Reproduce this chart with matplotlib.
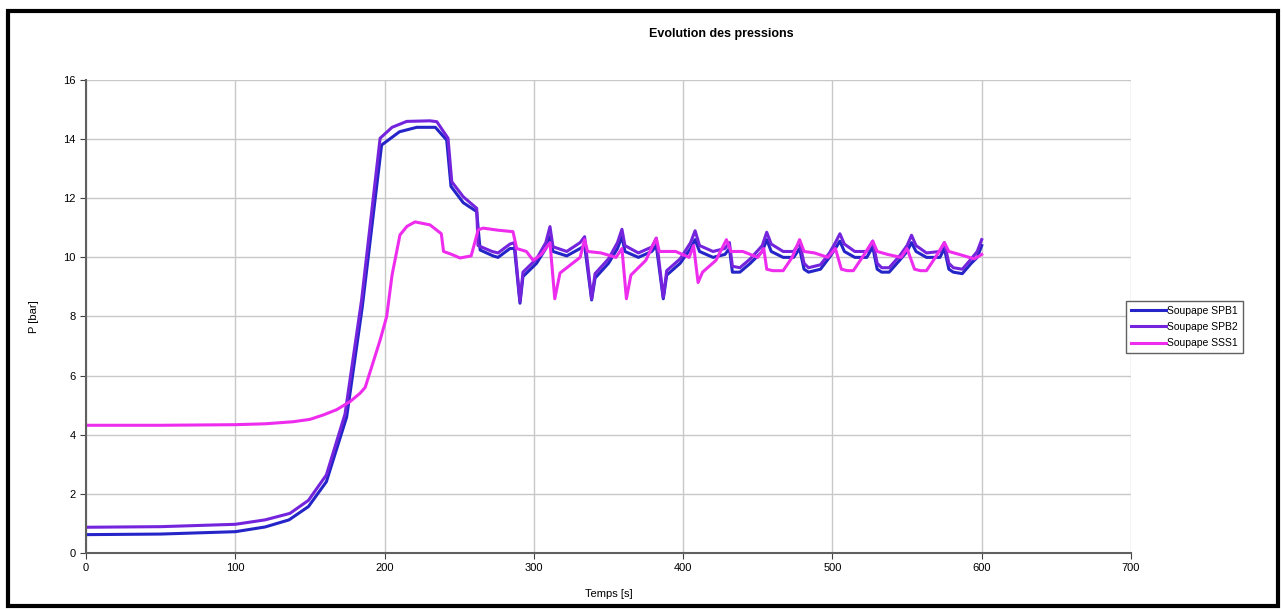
import numpy as np
import matplotlib.pyplot as plt
from matplotlib.patches import Rectangle

plt.rcParams['font.family'] = ['Liberation Sans', 'DejaVu Sans']

# Soupape SPB1
t_spb1 = [0, 50, 100, 120, 136, 149, 161, 174.6, 185, 198, 210, 221.5, 234, 241.6, 244.5,
          252.7, 261.7, 264, 272.7, 276, 284, 287, 290.7, 292.7, 301.8, 308, 310.8, 312.8,
          322, 331, 334, 338.7, 341, 350, 356, 359, 361, 370, 379, 382, 386.7, 389, 398,
          405, 408, 411, 420, 428, 431, 433, 438, 445, 453, 456, 459, 467, 474, 478, 481,
          484, 492, 498, 502, 505, 508, 515, 523, 527, 530, 533, 538, 545, 550, 553, 556,
          563, 572, 575, 578, 581, 587, 593, 597, 600]
p_spb1 = [0.62, 0.64, 0.72, 0.88, 1.12, 1.57, 2.41, 4.6, 8.3, 13.8, 14.25, 14.4, 14.4, 13.97, 12.4,
          11.85, 11.55, 10.25, 10.05, 10.0, 10.3, 10.3, 8.45, 9.35, 9.8, 10.3, 10.7, 10.2,
          10.05, 10.3, 10.4, 8.56, 9.3, 9.8, 10.3, 10.7, 10.2, 10.0, 10.2, 10.4, 8.6, 9.4, 9.8,
          10.3, 10.6, 10.2, 10.0, 10.1, 10.3, 9.5, 9.5, 9.8, 10.2, 10.6, 10.2, 10.0, 10.0, 10.3, 9.6,
          9.5, 9.6, 10.0, 10.3, 10.55, 10.2, 10.0, 10.0, 10.35, 9.6, 9.5, 9.5, 9.9, 10.2, 10.5, 10.2,
          10.0, 10.0, 10.3, 9.6, 9.5, 9.45, 9.8, 10.0, 10.4]

# Soupape SPB2
t_spb2 = [0, 50, 100, 120, 136.6, 149, 161, 173.5, 184.6, 197, 205, 214.8, 230.4, 235, 242.5,
          245, 252.7, 261.7, 262.6, 272, 276, 284, 287, 290.7, 292.7, 301.8, 308, 310.8, 312.8,
          322, 331, 334, 338.7, 341, 350, 356, 359, 361, 370, 379, 382, 386.7, 389, 398,
          405, 408, 411, 420, 428, 431, 433, 438, 445, 453, 456, 459, 467, 474, 478, 481,
          484, 492, 498, 502, 505, 508, 515, 523, 527, 530, 533, 538, 545, 550, 553, 556,
          563, 572, 575, 578, 581, 587, 593, 597, 600]
p_spb2 = [0.87, 0.89, 0.97, 1.12, 1.34, 1.78, 2.64, 4.7, 8.56, 14.03, 14.4, 14.6, 14.62, 14.59, 14.03,
          12.56, 12.05, 11.66, 10.4, 10.2, 10.15, 10.45, 10.5, 8.5, 9.5, 9.95, 10.5, 11.04, 10.36,
          10.2, 10.5, 10.7, 8.6, 9.45, 9.95, 10.5, 10.95, 10.4, 10.15, 10.35, 10.65, 8.65, 9.55, 9.95,
          10.5, 10.9, 10.4, 10.2, 10.3, 10.5, 9.7, 9.65, 9.95, 10.4, 10.85, 10.45, 10.2, 10.2, 10.5, 9.8,
          9.65, 9.75, 10.15, 10.5, 10.8, 10.45, 10.2, 10.2, 10.55, 9.8, 9.65, 9.65, 10.05, 10.4, 10.75, 10.4,
          10.15, 10.2, 10.5, 9.8, 9.65, 9.6, 9.95, 10.2, 10.6]

# Soupape SSS1
t_sss1 = [0, 50, 100, 120, 138.8, 150, 159, 168, 176.8, 183.5, 187, 192, 197, 201.4, 205,
          210.3, 215, 220.4, 230.4, 238, 239.5, 245, 250.5, 258, 262.7, 266, 276, 286, 288.5,
          295, 299.5, 305, 310.8, 314, 317.5, 331, 334, 336, 345, 355, 359, 362, 365, 375, 382,
          384, 395, 404, 407, 410, 413, 422, 429, 432, 440, 450, 454, 456, 460, 467, 473, 478,
          481, 488, 497, 502, 506, 510, 514, 520, 527, 530, 537, 546, 550, 555, 559, 563, 569,
          575, 578, 585, 595, 600]
p_sss1 = [4.32, 4.32, 4.34, 4.37, 4.44, 4.52, 4.67, 4.85, 5.12, 5.4, 5.6, 6.4, 7.2, 8.0, 9.4,
          10.76, 11.05, 11.2, 11.1, 10.8, 10.2, 10.1, 9.98, 10.05, 10.93, 10.99, 10.92, 10.87, 10.3,
          10.2, 9.9, 10.1, 10.5, 8.6, 9.47, 10.0, 10.6, 10.2, 10.15, 10.0, 10.3, 8.6, 9.4, 9.9, 10.65,
          10.2, 10.2, 10.0, 10.4, 9.15, 9.5, 9.9, 10.6, 10.2, 10.2, 10.0, 10.3, 9.6, 9.55, 9.55, 10.0, 10.6,
          10.2, 10.15, 10.0, 10.3, 9.6, 9.55, 9.55, 10.0, 10.55, 10.2, 10.1, 10.0, 10.3, 9.6, 9.55, 9.55, 10.0,
          10.5, 10.2, 10.1, 9.95, 10.1]

fig = plt.figure(figsize=(12.82, 6.09), dpi=100)
ax = fig.add_axes([0.0671, 0.092, 0.8151, 0.7766])

ax.plot(t_spb1, p_spb1, color="#2424c8", linewidth=2.2, label="Soupape SPB1")
ax.plot(t_spb2, p_spb2, color="#7424dc", linewidth=2.2, label="Soupape SPB2")
ax.plot(t_sss1, p_sss1, color="#ee2cee", linewidth=2.2, label="Soupape SSS1")

ax.set_xlim(0, 700)
ax.set_ylim(0, 16)
ax.set_xticks(np.arange(0, 701, 100))
ax.set_yticks(np.arange(0, 17, 2))
ax.grid(True, color="#c8c8c8", linewidth=1)
ax.set_axisbelow(True)
ax.tick_params(labelsize=8, length=4, color="#404040", direction="out")
for s in ["top", "right"]:
    ax.spines[s].set_visible(False)
for s in ["left", "bottom"]:
    ax.spines[s].set_color("#606060")
    ax.spines[s].set_linewidth(1.5)

ax.set_xlabel("Temps [s]", fontsize=8, labelpad=11)
ax.set_ylabel("P [bar]", fontsize=8, labelpad=17)
fig.text(721 / 1282, 1 - 34 / 609, "Evolution des pressions", fontsize=9,
         fontweight="bold", ha="center", va="center")

leg = fig.legend(loc="center left", bbox_to_anchor=(1121 / 1282, 1 - 327 / 609),
                 fontsize=7.5, fancybox=False, edgecolor="#606060", handlelength=3.3,
                 handletextpad=0.1, borderpad=0.5, labelspacing=0.6, framealpha=1)
leg.get_frame().set_linewidth(1)

# cadre noir autour de la figure
fig.patches.append(Rectangle((8 / 1282, 3 / 609), 1270 / 1282, 595 / 609,
                             transform=fig.transFigure, fill=False,
                             edgecolor="black", linewidth=3))

fig.savefig("out.png", dpi=100)
